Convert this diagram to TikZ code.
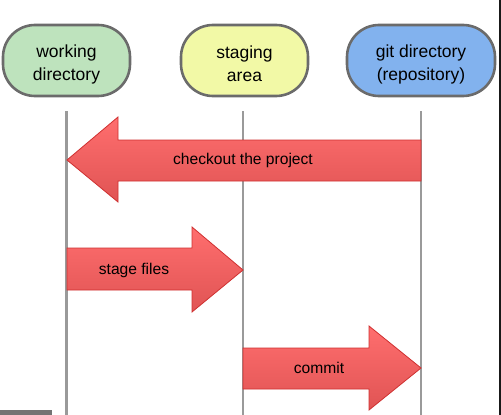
\documentclass[tikz,border=0pt]{standalone}
\usepackage{fontspec}
\setmainfont{Liberation Sans}
\usetikzlibrary{positioning}

\definecolor{wdgreen}{HTML}{BEE3BD}
\definecolor{stageyellow}{HTML}{F2F9A6}
\definecolor{repoblue}{HTML}{82B2EE}
\definecolor{lifegrey}{HTML}{9A9A9A}
\definecolor{arrowtop}{HTML}{FF6E6E}
\definecolor{arrowbot}{HTML}{E05454}
\definecolor{arrowline}{HTML}{CF3030}

\newcommand{\areatop}{\rule{0pt}{20pt}}

\begin{document}
\begin{tikzpicture}[x=1pt,y=-1pt,font=\fontsize{17.5}{23}\selectfont]
  \tikzstyle{area}=[rectangle,rounded corners=32pt,line width=2.6pt,draw=black!58,minimum width=127pt,minimum height=71pt,align=center,inner sep=0pt]
  \tikzstyle{lifeline}=[line width=2.3pt,draw=lifegrey]
  \tikzstyle{bigarrow}=[draw=arrowline,line width=0.8pt,top color=arrowtop,bottom color=arrowbot]
  \tikzstyle{arrowtext}=[font=\fontsize{15.6}{18}\selectfont,inner sep=0pt]

  \useasboundingbox (0,0) rectangle (501,415);

    \node [area,fill=wdgreen] (work) at (66.5,60.5) {\areatop working\\directory}; %WD
    \node [area,fill=stageyellow] (stage) at (244.5,60.5) {\areatop staging\\area}; %SA
    \node [area,fill=repoblue,minimum width=148pt] (repo) at (421,60.5) {\areatop git directory\\(repository)}; %GD

    % lifelines
    \draw [lifeline] ([yshift=-14pt]work.south) -- (work.south |- 0,415);
    \draw [lifeline] ([yshift=-14pt]stage.south -| 243,0) -- (243,415);
    \draw [lifeline] ([yshift=-14pt]repo.south) -- (repo.south |- 0,415);

    % arrows
    \draw [bigarrow] (421,140) -- (118,140) -- (118,117) -- (67,160)
        -- (118,202) -- (118,181) -- (421,181) -- cycle;
    \draw [bigarrow] (67,248) -- (192,248) -- (192,227) -- (243,270)
        -- (192,312) -- (192,290) -- (67,290) -- cycle;
    \draw [bigarrow] (243,348) -- (369,348) -- (369,326) -- (421,368)
        -- (369,410) -- (369,389) -- (243,389) -- cycle;

    \node [arrowtext] (checkout) at (243,160) {checkout the project};
    \node [arrowtext] (stagefiles) at (134,270) {stage files};
    \node [arrowtext] (commit) at (319,368) {commit};

    % edges of the screenshot
    \fill [black!90] (499,0) rectangle (501,415);
    \fill [black!55] (0,410) rectangle (52,415);
\end{tikzpicture}
\end{document}
